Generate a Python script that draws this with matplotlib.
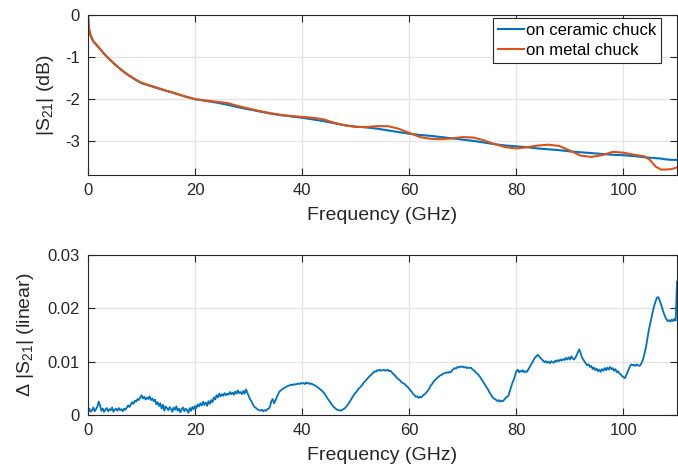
import numpy as np
import matplotlib
matplotlib.use("Agg")
import matplotlib.pyplot as plt

plt.rcParams['font.family'] = ['Liberation Sans', 'DejaVu Sans']
plt.rcParams['mathtext.fontset'] = 'custom'
plt.rcParams['mathtext.rm'] = 'Liberation Sans'
plt.rcParams['mathtext.it'] = 'Liberation Sans:italic'
plt.rcParams['mathtext.default'] = 'rm'

# ---- top panel data (GHz, dB) ----
freq_top = [0, 0.1, 0.2, 0.5, 1, 2, 3, 4, 5, 6, 7, 8, 9, 10, 12, 14, 16, 18, 20,
            22, 24, 26, 28, 30, 32, 34, 36, 38, 40, 42, 44, 46, 48, 50, 52, 54,
            56, 58, 60, 62, 64, 66, 68, 70, 72, 74, 76, 78, 80, 82, 84, 86, 88,
            90, 92, 94, 96, 98, 100, 102, 104, 105, 106, 107, 108, 109, 110]
s21_ceramic = [0, -0.22, -0.35, -0.5, -0.63, -0.77, -0.92, -1.05, -1.17, -1.28,
               -1.38, -1.47, -1.55, -1.62, -1.70, -1.78, -1.85, -1.93, -2.00,
               -2.04, -2.08, -2.13, -2.19, -2.24, -2.29, -2.34, -2.38, -2.41,
               -2.44, -2.48, -2.52, -2.57, -2.62, -2.65, -2.67, -2.70, -2.74,
               -2.78, -2.82, -2.85, -2.87, -2.90, -2.93, -2.96, -2.99, -3.03,
               -3.07, -3.10, -3.12, -3.14, -3.17, -3.19, -3.21, -3.24, -3.26,
               -3.28, -3.30, -3.32, -3.33, -3.35, -3.38, -3.39, -3.40, -3.41,
               -3.43, -3.44, -3.44]
s21_metal = [0, -0.21, -0.33, -0.48, -0.62, -0.77, -0.92, -1.05, -1.17, -1.28,
             -1.38, -1.46, -1.54, -1.61, -1.69, -1.77, -1.85, -1.93, -2.00,
             -2.03, -2.06, -2.09, -2.16, -2.22, -2.28, -2.33, -2.37, -2.40,
             -2.42, -2.44, -2.48, -2.56, -2.62, -2.66, -2.66, -2.64, -2.64,
             -2.70, -2.80, -2.90, -2.94, -2.95, -2.93, -2.90, -2.91, -2.98,
             -3.07, -3.14, -3.17, -3.14, -3.10, -3.08, -3.11, -3.22, -3.34,
             -3.37, -3.33, -3.25, -3.27, -3.32, -3.36, -3.45, -3.60, -3.67,
             -3.67, -3.66, -3.62]

# ---- bottom panel data: delta |S21| in units of 1e-4, 0.25 GHz steps ----
delta_e4 = [
    5, 12, 6, 9, 14, 7, 11, 16,            # 0
    25, 18, 8, 12, 6, 10, 13, 7,           # 2
    11, 9, 14, 6, 10, 12, 8, 13,           # 4
    9, 11, 7, 12, 10, 14, 18, 15,          # 6
    20, 24, 21, 27, 25, 30, 28, 33,        # 8
    37, 31, 34, 29, 33, 30, 35, 28,        # 10
    31, 26, 29, 20, 24, 17, 22, 12,        # 12
    19, 8, 16, 13, 9, 15, 11, 6,           # 14
    14, 10, 16, 8, 12, 5, 11, 14,          # 16
    7, 12, 9, 4, 13, 8, 15, 11,            # 18
    17, 13, 20, 16, 22, 18, 25, 19,        # 20
    23, 17, 26, 21, 28, 24, 33, 29,        # 22
    37, 33, 40, 35, 39, 36, 41, 37,        # 24
    40, 38, 43, 39, 42, 38, 44, 40,        # 26
    46, 41, 43, 39, 45, 40, 48, 42,        # 28
    36, 30, 26, 21, 16, 14, 12, 10,        # 30
    9, 8, 10, 7, 9, 8, 11, 12,             # 32
    16, 26, 30, 22, 27, 33, 39, 44,        # 34
    46, 48, 50, 51, 53, 54, 55, 56,        # 36
    57, 56, 58, 57, 58, 59, 58, 60,        # 38
    59, 60, 58, 61, 59, 60, 58, 59,        # 40
    57, 56, 55, 53, 51, 49, 47, 45,        # 42
    42, 39, 35, 31, 27, 24, 20, 17,        # 44
    14, 12, 10, 9, 9, 8, 10, 11,           # 46
    13, 16, 19, 23, 27, 31, 35, 39,        # 48
    42, 45, 49, 51, 54, 57, 61, 63,        # 50
    66, 69, 72, 74, 77, 79, 82, 81,        # 52
    84, 83, 85, 83, 84, 85, 83, 84,        # 54
    85, 82, 83, 80, 77, 75, 72, 69,        # 56
    67, 65, 62, 60, 59, 57, 54, 52,        # 58
    49, 46, 43, 39, 37, 34, 35, 32,        # 60
    34, 33, 36, 38, 40, 43, 46, 50,        # 62
    55, 58, 62, 65, 67, 70, 72, 74,        # 64
    75, 77, 78, 79, 80, 79, 81, 80,        # 66
    84, 86, 88, 87, 90, 89, 91, 90,        # 68
    91, 89, 90, 88, 89, 88, 89, 86,        # 70
    84, 82, 79, 77, 74, 71, 67, 63,        # 72
    59, 55, 51, 47, 42, 38, 34, 31,        # 74
    30, 28, 26, 28, 25, 27, 26, 29,        # 76
    32, 34, 36, 44, 52, 60, 66, 74,        # 78
    82, 85, 80, 83, 81, 84, 80, 82,        # 80
    81, 86, 90, 95, 99, 104, 108, 110,     # 82
    113, 110, 107, 104, 102, 99, 101, 98,  # 84
    100, 97, 101, 99, 98, 102, 100, 103,   # 86
    101, 104, 102, 105, 103, 107, 104, 108,  # 88
    104, 110, 106, 104, 107, 112, 118, 123,  # 90
    116, 108, 104, 100, 96, 93, 95, 90,    # 92
    92, 86, 89, 84, 87, 82, 85, 81,        # 94
    86, 83, 88, 84, 89, 85, 90, 86,        # 96
    88, 83, 86, 80, 82, 78, 76, 73,        # 98
    71, 69, 74, 80, 86, 92, 95, 93,        # 100
    94, 92, 95, 93, 92, 95, 100, 108,      # 102
    118, 130, 145, 160, 172, 183, 195, 205,  # 104
    213, 220, 221, 215, 208, 200, 192, 185,  # 106
    180, 176, 178, 175, 179, 176, 180, 177,  # 108
    250,                                   # 110
]
freq_step = 0.25

x_ticks = [0, 20, 40, 60, 80, 100]
y_ticks_top = [-3, -2, -1, 0]
y_ticks_bot = [0, 0.01, 0.02, 0.03]

blue = '#0072BD'
orange = '#D95319'
axcol = '#262626'

W, H = 678, 470
fig = plt.figure(figsize=(W / 100, H / 100), dpi=100)
left = 88 / W
width = (677 - 88) / W
ax1 = fig.add_axes([left, 1 - 175 / H, width, 160 / H])
ax2 = fig.add_axes([left, 1 - 415 / H, width, 160 / H])

ax1.plot(freq_top, s21_ceramic, color=blue, lw=1.5, label='on ceramic chuck')
ax1.plot(freq_top, s21_metal, color=orange, lw=1.5, label='on metal chuck')
ax1.set_xlim(0, 110)
ax1.set_ylim(-3.8, 0)
ax1.set_yticks(y_ticks_top)
ax1.set_yticklabels([str(v) for v in y_ticks_top])
ax1.set_ylabel(r'|S$_{21}$| (dB)', fontsize=14, color=axcol, labelpad=6)
leg = ax1.legend(loc='upper right', fontsize=12, frameon=True, fancybox=False,
                 edgecolor=axcol, framealpha=1, handlelength=1.55,
                 handletextpad=0.1, borderpad=0.3, labelspacing=0.3,
                 borderaxespad=0,
                 bbox_to_anchor=(661 / W, 1 - 18 / H),
                 bbox_transform=fig.transFigure)
leg.get_frame().set_linewidth(0.8)

delta = np.array(delta_e4) * 1e-4
freq_bot = np.arange(len(delta)) * freq_step
ax2.plot(freq_bot, delta, color=blue, lw=1.3)
ax2.set_xlim(0, 110)
ax2.set_ylim(0, 0.03)
ax2.set_yticks(y_ticks_bot)
ax2.set_yticklabels(['0', '0.01', '0.02', '0.03'])
ax2.set_ylabel(r'Δ |S$_{21}$| (linear)', fontsize=14, color=axcol, labelpad=8)

for ax in (ax1, ax2):
    ax.set_xticks(x_ticks)
    ax.set_xlabel('Frequency (GHz)', fontsize=14, color=axcol, labelpad=6)
    ax.grid(True, color='#e3e3e3', lw=0.9)
    ax.set_axisbelow(True)
    ax.tick_params(direction='in', top=True, right=True, length=5,
                   width=0.8, labelsize=12, colors=axcol, pad=6)
    for sp in ax.spines.values():
        sp.set_color(axcol)
        sp.set_linewidth(0.8)

fig.savefig('out.png', dpi=100)
